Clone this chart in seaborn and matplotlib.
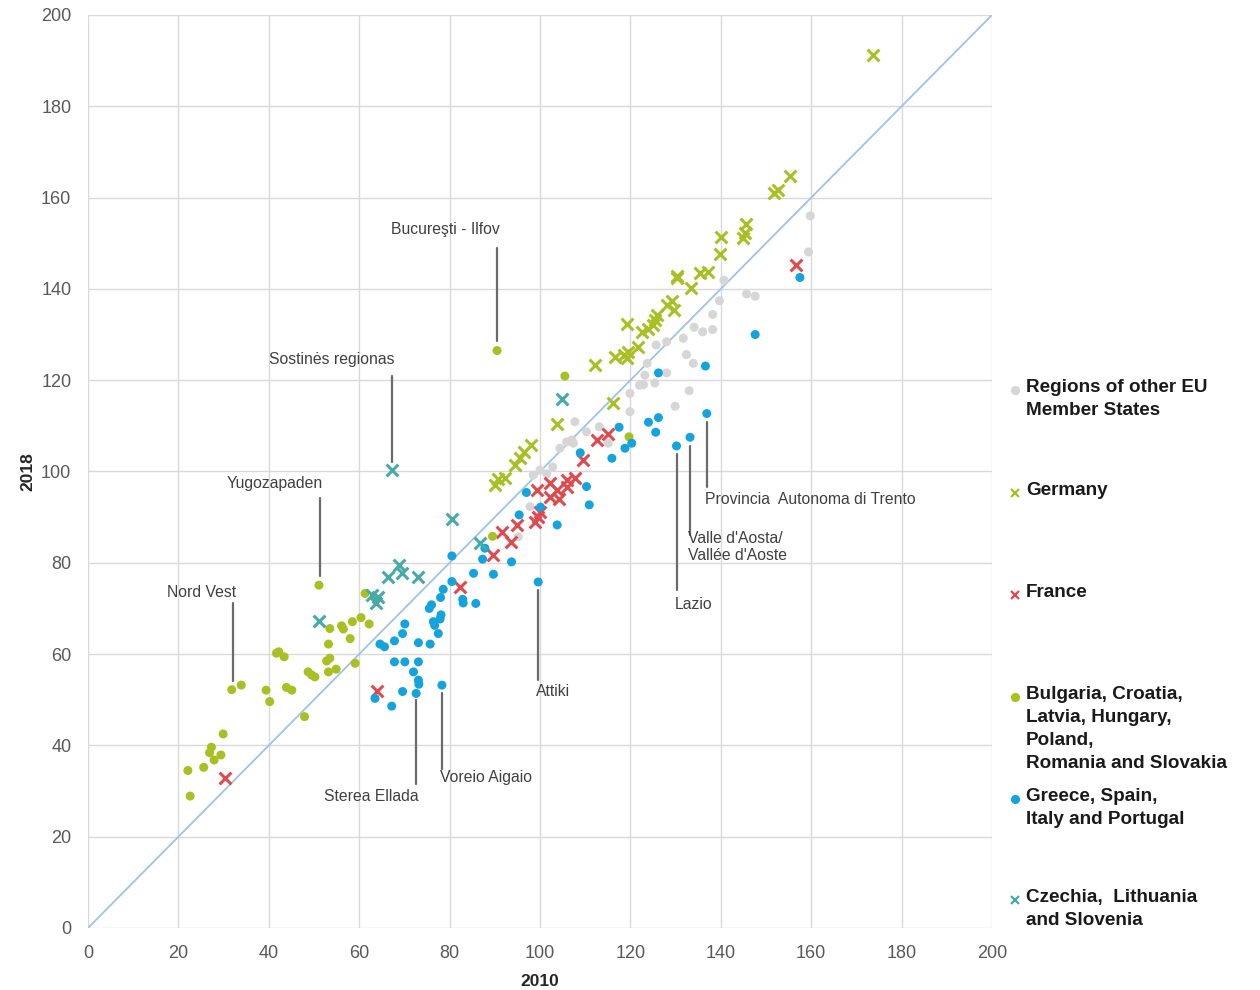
import numpy as np
import pandas as pd
import seaborn as sns
import matplotlib.pyplot as plt
from matplotlib.lines import Line2D

# GDP per head (PPS, EU = 100) by NUTS 2 region, 2010 vs 2018

other_x = [95.2, 97.8, 98.5, 100.0, 104.4, 105.9, 107.0, 107.4, 107.7, 110.3, 113.1, 115.1,
           119.9, 119.9, 122.0, 122.9, 123.2, 123.7, 125.4, 125.7, 128.0, 128.0, 129.9, 131.7,
           132.4, 133.0, 133.9, 134.1, 136.0, 138.2, 138.2, 139.7, 140.7, 145.7, 147.6, 159.4,
           159.8, 101.5, 102.8]
other_y = [85.7, 92.3, 99.2, 100.3, 105.1, 106.5, 106.9, 106.2, 110.9, 108.7, 109.8, 106.2,
           117.1, 113.1, 118.9, 119.0, 121.1, 123.7, 119.4, 127.7, 121.6, 128.4, 114.3, 129.2,
           125.6, 117.7, 123.7, 131.6, 130.6, 134.4, 131.1, 137.4, 141.9, 138.9, 138.4, 148.1,
           156.0, 99.5, 101.0]

germany_x = [90.0, 90.7, 92.3, 94.4, 95.6, 96.5, 97.9, 103.7, 112.2, 116.2, 116.6, 118.5,
             119.2, 119.5, 119.2, 121.7, 122.5, 124.0, 125.1, 125.4, 125.8, 128.0, 129.1, 129.6,
             130.2, 130.4, 133.3, 135.4, 137.2, 139.8, 140.0, 145.0, 145.3, 145.6, 151.8, 152.7,
             155.3, 173.7]
germany_y = [97.0, 98.3, 98.5, 101.5, 102.9, 104.3, 105.8, 110.4, 123.3, 115.1, 125.1, 125.5,
             124.8, 126.2, 132.4, 127.3, 130.6, 131.3, 132.1, 133.2, 134.3, 136.5, 137.4, 135.4,
             142.3, 142.8, 140.1, 143.4, 143.8, 147.7, 151.4, 151.2, 152.2, 154.2, 161.1, 161.7,
             164.7, 191.2]

france_x = [30.2, 63.9, 82.3, 89.6, 91.5, 93.5, 94.9, 98.9, 99.6, 100.0, 99.3, 102.2, 102.2,
            103.7, 104.1, 105.9, 105.9, 107.7, 109.6, 112.5, 115.1, 156.6]
france_y = [32.8, 52.0, 74.8, 81.6, 86.8, 84.6, 88.3, 89.0, 90.1, 91.2, 95.9, 97.4, 94.5,
            95.9, 94.0, 98.1, 96.7, 98.5, 102.5, 106.9, 108.3, 145.2]

east_x = [22.1, 22.6, 25.6, 26.9, 27.3, 27.9, 29.4, 29.9, 31.8, 33.9, 39.4, 40.2, 41.7, 42.2,
          43.4, 43.9, 45.1, 47.9, 48.7, 49.5, 50.2, 51.1, 52.8, 53.5, 53.2, 53.2, 54.9, 53.5,
          56.1, 56.5, 58.0, 58.5, 59.1, 60.4, 61.3, 62.2, 89.5, 90.5, 105.5, 119.7]
east_y = [34.5, 28.9, 35.2, 38.4, 39.6, 36.8, 37.9, 42.5, 52.2, 53.2, 52.1, 49.6, 60.2, 60.5,
          59.4, 52.7, 52.1, 46.3, 56.1, 55.4, 55.0, 75.1, 58.5, 59.1, 62.2, 56.1, 56.7, 65.6,
          66.2, 65.5, 63.4, 67.1, 58.0, 68.0, 73.3, 66.6, 85.8, 126.5, 120.9, 107.6]

south_x = [63.5, 64.6, 65.6, 67.2, 67.8, 67.8, 69.6, 70.1, 69.6, 70.1, 72.0, 72.6, 73.1, 73.1,
           73.1, 73.2, 75.5, 75.7, 76.0, 76.4, 76.7, 77.5, 77.9, 78.1, 78.0, 78.3, 78.6, 80.5,
           80.5, 82.9, 83.0, 85.3, 85.8, 87.3, 87.8, 89.7, 93.7, 95.4, 97.0, 99.6, 100.1, 103.8,
           108.9, 110.3, 110.9, 115.9, 117.5, 118.8, 120.3, 124.0, 125.6, 126.2, 126.2, 130.2,
           133.2, 136.6, 136.9, 147.6, 157.5]
south_y = [50.3, 62.2, 61.6, 48.6, 62.9, 58.3, 64.5, 66.6, 51.8, 58.3, 56.1, 51.4, 62.5, 58.3,
           54.3, 53.4, 70.0, 62.2, 70.8, 67.1, 66.3, 64.5, 67.7, 68.6, 72.4, 53.2, 74.2, 75.9,
           81.5, 72.0, 71.2, 77.7, 71.1, 80.8, 83.2, 77.5, 80.2, 90.5, 95.4, 75.8, 92.2, 88.3,
           104.1, 96.7, 92.7, 102.9, 109.7, 105.1, 106.2, 110.8, 108.6, 111.8, 121.6, 105.6,
           107.5, 123.1, 112.7, 130.0, 142.5]

cz_x = [51.1, 62.8, 63.7, 64.2, 66.4, 67.3, 68.7, 69.4, 72.9, 80.5, 86.7, 104.8]
cz_y = [67.3, 72.9, 71.3, 72.4, 76.9, 100.3, 79.5, 77.7, 76.9, 89.6, 84.3, 115.9]

group_names = ["Regions of other EU\nMember States", "Germany", "France",
               "Bulgaria, Croatia,\nLatvia, Hungary,\nPoland,\nRomania and Slovakia",
               "Greece, Spain,\nItaly and Portugal", "Czechia,  Lithuania\nand Slovenia"]

# label text, text x, text y, line x, line top, line bottom, side of the line
labels = [
    ("Bucureşti - Ilfov", 90.5, 153.0, 90.5, 149.0, 128.5, "r"),
    ("Sostinės regionas", 67.3, 124.5, 67.3, 121.0, 102.0, "r"),
    ("Yugozapaden", 51.3, 97.3, 51.3, 94.3, 77.0, "r"),
    ("Nord Vest", 32.1, 73.4, 32.1, 71.2, 54.0, "r"),
    ("Sterea Ellada", 72.6, 28.7, 72.6, 31.5, 50.0, "r"),
    ("Voreio Aigaio", 78.3, 32.9, 78.3, 34.8, 51.5, "l"),
    ("Attiki", 99.6, 51.7, 99.6, 54.3, 74.0, "l"),
    ("Lazio", 130.2, 70.8, 130.2, 74.0, 103.8, "l"),
    ("Valle d'Aosta/\nVallée d'Aoste", 133.2, 83.4, 133.2, 86.0, 105.6, "l"),
    ("Provincia  Autonoma di Trento", 136.9, 93.8, 136.9, 96.6, 110.8, "l"),
]

frames = [
    pd.DataFrame({"x": other_x, "y": other_y, "g": group_names[0]}),
    pd.DataFrame({"x": germany_x, "y": germany_y, "g": group_names[1]}),
    pd.DataFrame({"x": france_x, "y": france_y, "g": group_names[2]}),
    pd.DataFrame({"x": east_x, "y": east_y, "g": group_names[3]}),
    pd.DataFrame({"x": south_x, "y": south_y, "g": group_names[4]}),
    pd.DataFrame({"x": cz_x, "y": cz_y, "g": group_names[5]}),
]
df = pd.concat(frames, ignore_index=True)

colors = ["#d6d6d6", "#a8c023", "#e04a4f", "#a8c023", "#14a3dd", "#45aaa8"]
markers = ["o", "X", "X", "o", "o", "X"]

sns.set_style("white")
plt.rcParams["font.family"] = ["Liberation Sans", "DejaVu Sans"]

fig = plt.figure(figsize=(12.6, 9.9), dpi=100)
ax = fig.add_axes([88 / 1260, 1 - 928 / 990, 904 / 1260, 913 / 990])

# 45 degree reference line
ax.plot([0, 200], [0, 200], color="#9dc3e6", lw=1.3, zorder=1)

for i, name in enumerate(group_names):
    sub = df[df["g"] == name]
    if markers[i] == "o":
        sns.scatterplot(data=sub, x="x", y="y", color=colors[i], marker="o", s=42,
                        edgecolor="none", ax=ax, zorder=3, legend=False)
    else:
        sns.scatterplot(data=sub, x="x", y="y", color=colors[i], marker="x", s=72,
                        linewidth=2.2, ax=ax, zorder=3, legend=False)

for text, tx, ty, lx, ltop, lbot, side in labels:
    ax.plot([lx, lx], [ltop, lbot], color="#6b6b6b", lw=1.6, zorder=2)
    if side == "l":
        ax.text(tx - 0.4, ty, text, ha="left", va="center", fontsize=11.3,
                color="#404040", linespacing=1.2)
    else:
        ax.text(tx + 0.6, ty, text, ha="right", va="center", fontsize=11.3, color="#404040")

ax.set_xlim(0, 200)
ax.set_ylim(0, 200)
ax.set_xticks(range(0, 201, 20))
ax.set_yticks(range(0, 201, 20))
ax.grid(True, color="#d9d9d9", lw=1)
for s in ax.spines.values():
    s.set_visible(False)
ax.tick_params(axis="x", labelsize=13, colors="#595959", length=0, pad=12)
ax.tick_params(axis="y", labelsize=13, colors="#595959", length=0, pad=12)
ax.set_xlabel("2010", fontsize=12.5, fontweight="bold", color="#262626", labelpad=9)
ax.set_ylabel("2018", fontsize=12.5, fontweight="bold", color="#262626", labelpad=4)

# legend drawn in figure space
legend_top = [379, 482, 584, 686, 788, 889]
for i, name in enumerate(group_names):
    yt = 1 - legend_top[i] / 990
    ym = 1 - (legend_top[i] + 11) / 990
    mk = Line2D([1015 / 1260], [ym], transform=fig.transFigure,
                marker="o" if markers[i] == "o" else "x",
                color=colors[i], markersize=5 if markers[i] == "o" else 5.5, mew=1.6, ls="none")
    fig.add_artist(mk)
    fig.text(1026 / 1260, yt, name, ha="left", va="top", fontsize=13.6, fontweight="bold",
             color="#1a1a1a", linespacing=1.45)

fig.savefig("out.png", dpi=100)
